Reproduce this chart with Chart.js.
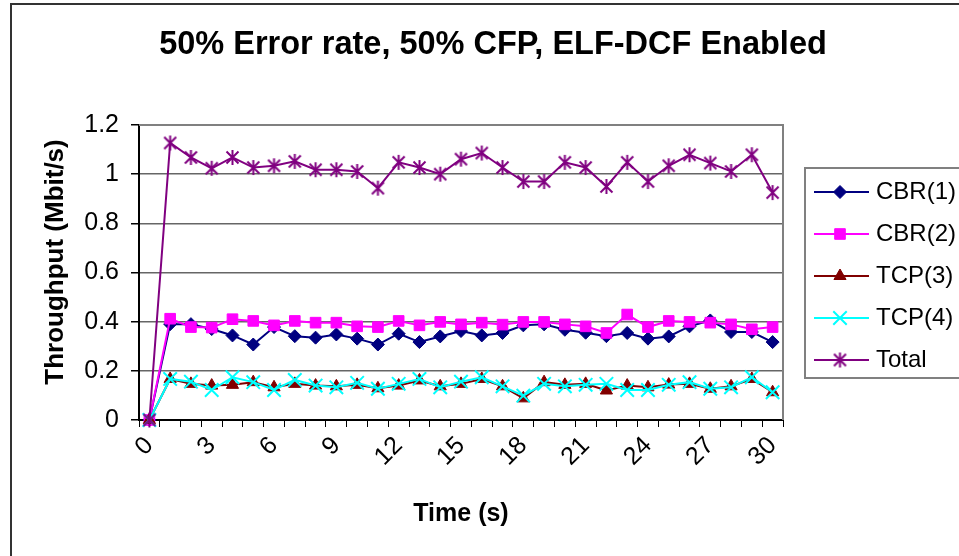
<!DOCTYPE html>
<html><head><meta charset="utf-8">
<script src="https://cdn.jsdelivr.net/npm/chart.js@4.4.1/dist/chart.umd.min.js"></script>
<style>html,body{margin:0;padding:0;background:#fff;}#wrap{width:959px;height:556px;}</style>
</head><body><div id="wrap"><canvas id="c" width="959" height="556"></canvas></div>
<script>
const chartTitle = '50% Error rate, 50% CFP, ELF-DCF Enabled';
const xAxisTitle = 'Time (s)';
const yAxisTitle = 'Throughput (Mbit/s)';
const categories = ['0','1','2','3','4','5','6','7','8','9','10','11','12','13','14','15','16','17','18','19','20','21','22','23','24','25','26','27','28','29','30'];
const xTickLabels = ['0','3','6','9','12','15','18','21','24','27','30'];
const yTickLabels = ['0','0.2','0.4','0.6','0.8','1','1.2'];
const seriesNames = ['CBR(1)','CBR(2)','TCP(3)','TCP(4)','Total'];
const cbr1  = [0,0.390,0.390,0.370,0.344,0.307,0.378,0.341,0.335,0.348,0.331,0.307,0.351,0.317,0.340,0.362,0.344,0.354,0.385,0.389,0.367,0.355,0.341,0.354,0.331,0.340,0.381,0.405,0.358,0.358,0.317];
const cbr2  = [0,0.412,0.378,0.376,0.410,0.403,0.385,0.403,0.396,0.396,0.381,0.378,0.403,0.385,0.399,0.389,0.396,0.388,0.399,0.399,0.389,0.381,0.354,0.429,0.378,0.403,0.399,0.396,0.389,0.369,0.378];
const tcp3  = [0,0.167,0.147,0.140,0.143,0.154,0.133,0.147,0.140,0.137,0.143,0.129,0.140,0.161,0.137,0.147,0.167,0.137,0.088,0.154,0.143,0.147,0.120,0.140,0.133,0.144,0.147,0.127,0.137,0.167,0.113];
const tcp4  = [0,0.167,0.156,0.122,0.174,0.154,0.122,0.163,0.140,0.133,0.151,0.127,0.147,0.167,0.133,0.156,0.174,0.137,0.099,0.147,0.137,0.143,0.147,0.122,0.122,0.143,0.154,0.127,0.133,0.174,0.113];
const total = [0,1.127,1.068,1.024,1.068,1.027,1.034,1.052,1.018,1.018,1.011,0.943,1.048,1.027,1.000,1.061,1.086,1.027,0.970,0.970,1.048,1.027,0.950,1.048,0.970,1.034,1.079,1.045,1.011,1.079,0.925];

const FF = '"Liberation Sans", Arial, Helvetica, sans-serif';

function makeStar(color){
  const s = 17, c = document.createElement('canvas');
  c.width = s; c.height = s;
  const g = c.getContext('2d');
  g.strokeStyle = color; g.lineWidth = 2; g.lineCap = 'butt';
  const m = s/2;
  g.beginPath();
  g.moveTo(m, 1); g.lineTo(m, s-1);
  g.moveTo(m-6, m-6); g.lineTo(m+6, m+6);
  g.moveTo(m+6, m-6); g.lineTo(m-6, m+6);
  g.stroke();
  return c;
}
const starImg = makeStar('#800080');

function ds(label, data, color, style, radius, bw, order){
  return {label, data, borderColor: color, backgroundColor: color, pointBackgroundColor: color,
    pointBorderColor: color, pointStyle: style, pointRadius: radius, pointBorderWidth: bw,
    borderWidth: 2, tension: 0, clip: false, order};
}

const bgPlugin = {
  id: 'bg',
  beforeDraw(chart){
    const c = chart.ctx;
    c.save();
    c.fillStyle = '#fff'; c.fillRect(0,0,chart.width,chart.height);
    c.strokeStyle = '#333'; c.lineWidth = 2;
    c.beginPath(); c.moveTo(11, 556); c.lineTo(11, 4); c.lineTo(959, 4); c.stroke();
    c.fillStyle = '#000';
    c.font = 'bold 32.5px ' + FF;
    c.textAlign = 'center'; c.textBaseline = 'middle';
    c.fillText(chartTitle, 493, 45);
    c.save();
    c.translate(56, 262);
    c.rotate(-Math.PI / 2);
    c.font = 'bold 26px ' + FF;
    c.fillText(yAxisTitle, 0, 0);
    c.restore();
    c.restore();
  },
  beforeDatasetsDraw(chart){
    const a = chart.chartArea, c = chart.ctx;
    c.save();
    c.strokeStyle = '#808080'; c.lineWidth = 2;
    c.beginPath(); c.moveTo(a.left, a.top); c.lineTo(a.right, a.top); c.lineTo(a.right, a.bottom); c.stroke();
    c.restore();
  },
  afterDraw(chart){
    const c = chart.ctx;
    c.save();
    c.fillStyle = '#fff';
    c.fillRect(805, 168, 170, 210);
    c.strokeStyle = '#808080'; c.lineWidth = 2;
    c.strokeRect(805, 168, 170, 210);
    chart.data.datasets.forEach((d, i) => {
      const y = 192 + i * 42;
      c.strokeStyle = d.borderColor; c.lineWidth = 2;
      c.beginPath(); c.moveTo(814, y); c.lineTo(869, y); c.stroke();
      c.fillStyle = d.pointBackgroundColor; c.strokeStyle = d.pointBorderColor; c.lineWidth = d.pointBorderWidth;
      Chart.helpers.drawPoint(c, {pointStyle: d.pointStyle, radius: d.pointRadius, borderWidth: d.pointBorderWidth, rotation: 0}, 840, y);
      c.fillStyle = '#000'; c.font = '24px ' + FF; c.textAlign = 'left'; c.textBaseline = 'middle';
      c.fillText(d.label, 876, y);
    });
    c.restore();
  }
};

new Chart(document.getElementById('c'), {
  type: 'line',
  data: {
    labels: categories,
    datasets: [
      ds(seriesNames[0], cbr1, '#000080', 'rectRot', 6.5, 1, 5),
      ds(seriesNames[1], cbr2, '#FF00FF', 'rect', 7.5, 1, 4),
      ds(seriesNames[2], tcp3, '#800000', 'triangle', 7, 1, 3),
      ds(seriesNames[3], tcp4, '#00FFFF', 'crossRot', 9.5, 2, 2),
      ds(seriesNames[4], total, '#800080', starImg, 8, 2, 1)
    ]
  },
  options: {
    responsive: false, animation: false, devicePixelRatio: 1,
    layout: {padding: {left: 12, top: 125, right: 176, bottom: 0}},
    plugins: {legend: {display: false}, title: {display: false}, tooltip: {enabled: false}},
    scales: {
      x: {
        type: 'category', offset: true,
        grid: {offset: true, drawOnChartArea: false, drawTicks: true, tickLength: 7, color: '#000', tickColor: '#000', tickWidth: 1},
        border: {display: true, color: '#000', width: 2},
        ticks: {autoSkip: false, maxRotation: 45, minRotation: 45, padding: 4, color: '#000', font: {size: 25, family: FF},
          callback: (v, i) => xTickLabels.includes(categories[i]) ? categories[i] : ''},
        title: {display: true, text: xAxisTitle, color: '#000', font: {size: 25, weight: 'bold', family: FF}, padding: {top: 0, bottom: 27}},
        afterFit: s => { s.height = 136; }
      },
      y: {
        min: 0, max: 1.2,
        ticks: {stepSize: 0.2, padding: 12, color: '#000', font: {size: 25, family: FF},
          callback: v => { const t = yTickLabels.find(t => Math.abs(parseFloat(t) - v) < 1e-9); return t === undefined ? '' : t; }},
        grid: {color: '#666', lineWidth: 1.5, tickLength: 8, tickColor: '#000', tickWidth: 1.5},
        border: {display: true, color: '#000', width: 2},
        title: {display: false},
        afterFit: s => { s.width = 127; }
      }
    }
  },
  plugins: [bgPlugin]
});
</script>
</body></html>
